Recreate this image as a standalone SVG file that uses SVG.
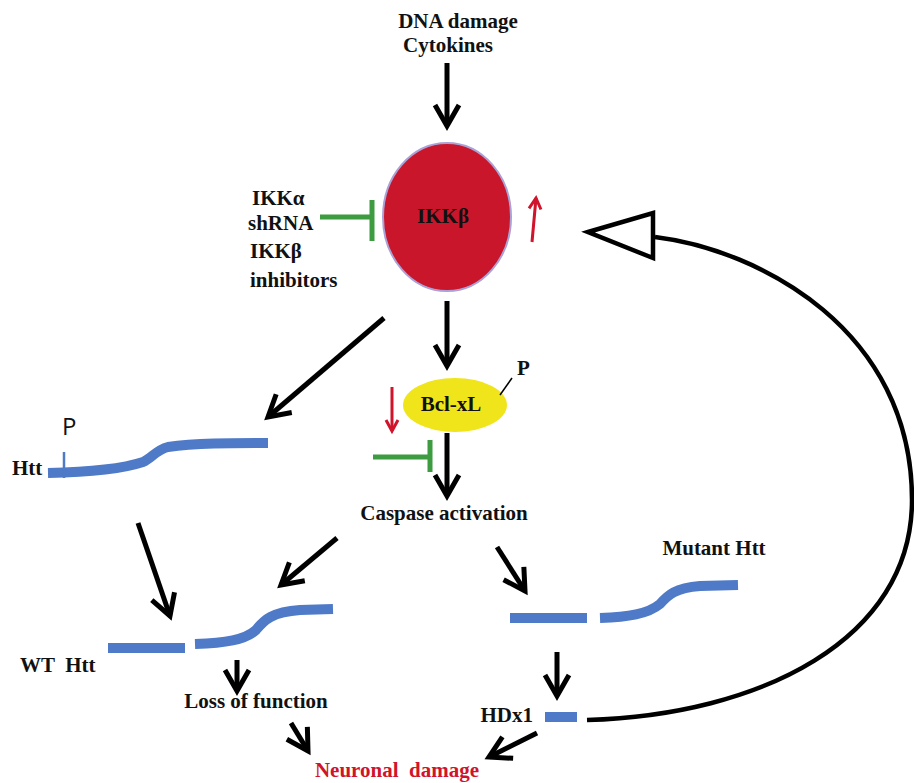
<svg xmlns="http://www.w3.org/2000/svg" width="914" height="783" viewBox="0 0 914 783">
<style>
.t{font-family:"Liberation Serif","Times New Roman",serif;font-weight:bold;font-size:21px;fill:#111}
.ar{fill:none;stroke:#000;stroke-width:5}
.rd{fill:none;stroke:#d0142c;stroke-width:3}
.gr{fill:none;stroke:#3d9b40;stroke-width:5}
.bl{fill:none;stroke:#4f7ac7;stroke-width:10}
</style>
<defs>
<marker id="ah" viewBox="-30 -20 40 40" refX="0" refY="0" markerWidth="40" markerHeight="40" orient="auto" markerUnits="userSpaceOnUse" overflow="visible">
<path d="M-21,-12 L0,0 L-21,12" fill="none" stroke="#000" stroke-width="5"/>
</marker>
<marker id="rh" viewBox="-15 -10 20 20" refX="0" refY="0" markerWidth="20" markerHeight="20" orient="auto" markerUnits="userSpaceOnUse" overflow="visible">
<path d="M-11,-6 L0,0 L-11,6" fill="none" stroke="#d0142c" stroke-width="3"/>
</marker>
</defs>
<rect width="914" height="783" fill="#fff"/>

<g id="connectors">
<line class="ar" x1="447" y1="63" x2="447" y2="126" marker-end="url(#ah)"/>
<line class="ar" x1="447" y1="301" x2="447" y2="366" marker-end="url(#ah)"/>
<line class="ar" x1="384" y1="318" x2="268" y2="417" marker-end="url(#ah)"/>
<line class="ar" x1="447" y1="433" x2="447" y2="496" marker-end="url(#ah)"/>
<line class="ar" x1="138" y1="523" x2="170" y2="616" marker-end="url(#ah)"/>
<line class="ar" x1="337" y1="538" x2="281" y2="585" marker-end="url(#ah)"/>
<line class="ar" x1="497" y1="547" x2="525" y2="591" marker-end="url(#ah)"/>
<line class="ar" x1="237" y1="660" x2="237" y2="691" marker-end="url(#ah)"/>
<line class="ar" x1="291" y1="723" x2="308" y2="751" marker-end="url(#ah)"/>
<line class="ar" x1="557" y1="652" x2="557" y2="696" marker-end="url(#ah)"/>
<line class="ar" x1="537" y1="733" x2="489" y2="757" marker-end="url(#ah)"/>
<line class="rd" x1="532" y1="242" x2="536" y2="198" marker-end="url(#rh)"/>
<line class="rd" x1="392" y1="387" x2="392" y2="431" marker-end="url(#rh)"/>
<path class="gr" d="M320,217 H371 M372,200 V241"/>
<path class="gr" d="M373,457 H429 M430,440 V472"/>
<path d="M587,720 C760,715 912,640 912,500 C912,330 760,250 655,237" fill="none" stroke="#000" stroke-width="4.5"/>
<polygon points="588,232 653,213 653,258" fill="#fff" stroke="#000" stroke-width="4.5" stroke-linejoin="miter"/>
</g>

<g id="inputs">
<text class="t" x="458" y="28" text-anchor="middle">DNA damage</text>
<text class="t" x="448" y="52" text-anchor="middle">Cytokines</text>
</g>

<g id="ikkb">
<ellipse cx="447" cy="217" rx="64" ry="74" fill="#c9162b" stroke="#aaa2d6" stroke-width="2"/>
<text class="t" x="443" y="223" text-anchor="middle" font-size="19">IKKβ</text>
</g>

<g id="inhibitors">
<text class="t" x="252" y="205">IKKα</text>
<text class="t" x="248" y="230">shRNA</text>
<text class="t" x="250" y="258">IKKβ</text>
<text class="t" x="250" y="287">inhibitors</text>
</g>

<g id="bclxl">
<ellipse cx="455" cy="405" rx="52" ry="27" fill="#f0e41a"/>
<text class="t" x="451" y="411" text-anchor="middle" font-size="15">Bcl-xL</text>
<line x1="500" y1="395" x2="512" y2="378" stroke="#000" stroke-width="1.5"/>
<text class="t" x="517" y="375" font-size="16">P</text>
</g>

<g id="caspase">
<text class="t" x="444" y="520" text-anchor="middle">Caspase activation</text>
</g>

<g id="htt">
<path class="bl" d="M48,473 C95,472 125,468 143,462 C152,458 156,450 168,447 C195,443 230,443 268,443"/>
<line x1="64" y1="452" x2="64" y2="478" stroke="#4f7ac7" stroke-width="2.5"/>
<text x="62" y="435" font-family="'Open Sans','Liberation Sans',sans-serif" font-size="24" fill="#111">P</text>
<text class="t" x="12" y="475" font-size="19">Htt</text>
</g>

<g id="wt-htt">
<line class="bl" x1="108" y1="648" x2="185" y2="648"/>
<path class="bl" d="M195,644 C225,643 245,640 256,630 C264,620 272,612 300,610 L333,609"/>
<text class="t" x="20" y="672" font-size="17" xml:space="preserve">WT  Htt</text>
</g>

<g id="loss">
<text class="t" x="256" y="708" text-anchor="middle">Loss of function</text>
</g>

<g id="mutant-htt">
<text class="t" x="714" y="555" text-anchor="middle">Mutant Htt</text>
<line class="bl" x1="510" y1="618" x2="587" y2="618"/>
<path class="bl" d="M600,618 C628,617 648,614 660,604 C668,595 675,588 700,586 L738,585"/>
</g>

<g id="hdx1">
<text class="t" x="533" y="722" text-anchor="end">HDx1</text>
<line class="bl" x1="545" y1="717" x2="577" y2="717"/>
</g>

<g id="neuronal">
<text class="t" x="397" y="777" text-anchor="middle" style="fill:#d0142c" xml:space="preserve">Neuronal  damage</text>
</g>
</svg>
